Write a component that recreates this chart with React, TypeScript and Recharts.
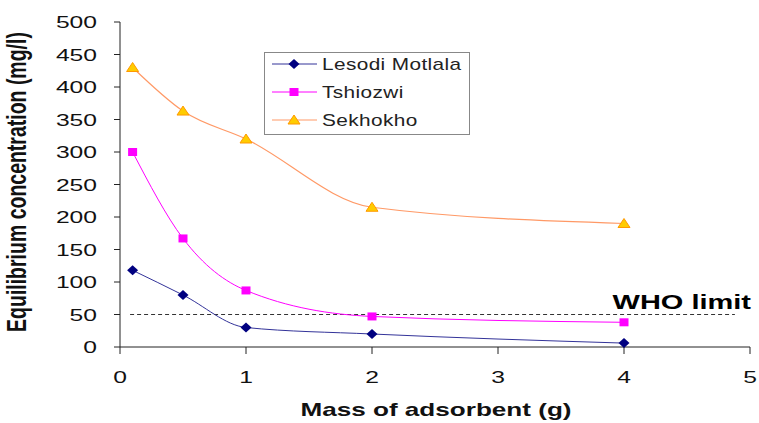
import React from 'react';
import {
  LineChart,
  Line,
  XAxis,
  YAxis,
  ReferenceLine
} from 'recharts';

// values
const massValues = [0.1, 0.5, 1, 2, 4];
const lesodiMotlala = [118, 80, 30, 20, 6];
const tshiozwi = [300, 167, 87, 47, 38];
const sekhokho = [430, 363, 320, 215, 190];
const xTicks = [0, 1, 2, 3, 4, 5];
const yTicks = [0, 50, 100, 150, 200, 250, 300, 350, 400, 450, 500];
const whoLimit = 50;

const chartData = massValues.map((m, i) => ({
  mass: m,
  lesodi: lesodiMotlala[i],
  tshiozwi: tshiozwi[i],
  sekhokho: sekhokho[i],
}));

const FONT = 'Arimo, "Liberation Sans", Arial, sans-serif';
// the source image is stretched sideways, so text is widened
const SX = 1.45;

const Diamond = (props: any) => {
  const { cx, cy } = props;
  if (cx == null || cy == null) return null;
  return <path d={`M${cx},${cy - 5}L${cx + 5.5},${cy}L${cx},${cy + 5}L${cx - 5.5},${cy}Z`} fill="#000080" />;
};

const Square = (props: any) => {
  const { cx, cy } = props;
  if (cx == null || cy == null) return null;
  return <rect x={cx - 4.5} y={cy - 4} width={9} height={8} fill="#ff00ff" />;
};

const Triangle = (props: any) => {
  const { cx, cy } = props;
  if (cx == null || cy == null) return null;
  return <path d={`M${cx},${cy - 5}L${cx + 6},${cy + 4}L${cx - 6},${cy + 4}Z`} fill="#ffcc00" stroke="#ff9900" strokeWidth={1} />;
};

const legendItems = [
  { name: 'Lesodi Motlala', color: '#333399', Shape: Diamond },
  { name: 'Tshiozwi', color: '#ff00ff', Shape: Square },
  { name: 'Sekhokho', color: '#ff9966', Shape: Triangle },
];

const XTick = (props: any) => {
  const { x, y, payload } = props;
  return (
    <text transform={`translate(${x},${y}) scale(${SX},1)`} textAnchor="middle" dy="0.71em" fontFamily={FONT} fontSize={17} fill="#111">
      {payload.value}
    </text>
  );
};

const YTick = (props: any) => {
  const { x, y, payload } = props;
  return (
    <text transform={`translate(${x},${y}) scale(${SX},1)`} textAnchor="end" dy="0.355em" fontFamily={FONT} fontSize={17} fill="#111">
      {payload.value}
    </text>
  );
};

const WhoLabel = (props: any) => {
  const { viewBox } = props;
  if (!viewBox) return null;
  return (
    <text transform={`translate(751,${viewBox.y - 6}) scale(${SX},1)`} textAnchor="end" fontFamily={FONT} fontWeight="bold" fontSize={20} fill="#000">
      WHO limit
    </text>
  );
};

export default function App() {
  return (
    <div style={{ position: 'absolute', left: 0, top: 0, width: 759, height: 423, background: '#fff' }}>
      <LineChart width={759} height={423} data={chartData} margin={{ top: 22, right: 9, bottom: 0, left: 0 }}>
        <XAxis
          dataKey="mass"
          type="number"
          domain={[0, 5]}
          ticks={xTicks}
          height={76}
          stroke="#222"
          tickSize={7}
          tickMargin={17}
          tick={<XTick />}
        />
        <YAxis
          type="number"
          domain={[0, 500]}
          ticks={yTicks}
          width={120}
          stroke="#222"
          tickSize={6}
          tickMargin={17}
          interval={0}
          tick={<YTick />}
        />
        <ReferenceLine
          segment={[{ x: 0.08, y: whoLimit }, { x: 4.88, y: whoLimit }]}
          stroke="#333"
          strokeDasharray="4 3"
          strokeWidth={1.2}
          label={<WhoLabel />}
        />
        <Line type="monotone" dataKey="lesodi" name="Lesodi Motlala" stroke="#333399" strokeWidth={1} dot={<Diamond />} isAnimationActive={false} />
        <Line type="monotone" dataKey="tshiozwi" name="Tshiozwi" stroke="#ff00ff" strokeWidth={1} dot={<Square />} isAnimationActive={false} />
        <Line type="monotone" dataKey="sekhokho" name="Sekhokho" stroke="#ff9966" strokeWidth={1.2} dot={<Triangle />} isAnimationActive={false} />
      </LineChart>

      {/* axis titles and legend drawn on top */}
      <svg width={759} height={423} style={{ position: 'absolute', left: 0, top: 0, pointerEvents: 'none' }}>
        <text transform={`translate(26,182) rotate(-90) scale(1,${SX})`} textAnchor="middle" fontFamily={FONT} fontWeight="bold" fontSize={19.5} fill="#111">
          Equilibrium concentration (mg/l)
        </text>
        <text transform={`translate(436,416) scale(${SX},1)`} textAnchor="middle" fontFamily={FONT} fontWeight="bold" fontSize={18} fill="#111">
          Mass of adsorbent (g)
        </text>
        <rect x={264.5} y={52.5} width={205} height={82} fill="#fff" stroke="#888" strokeWidth={1} />
        {legendItems.map((it, i) => {
          const cy = 64 + i * 28;
          return (
            <g key={it.name}>
              <line x1={272} x2={317} y1={cy} y2={cy} stroke={it.color} strokeWidth={1} />
              <it.Shape cx={294} cy={cy} />
              <text transform={`translate(322,${cy + 5.5}) scale(1.3,1)`} fontFamily={FONT} fontSize={16} letterSpacing={0.3} fill="#222">
                {it.name}
              </text>
            </g>
          );
        })}
      </svg>
    </div>
  );
}
